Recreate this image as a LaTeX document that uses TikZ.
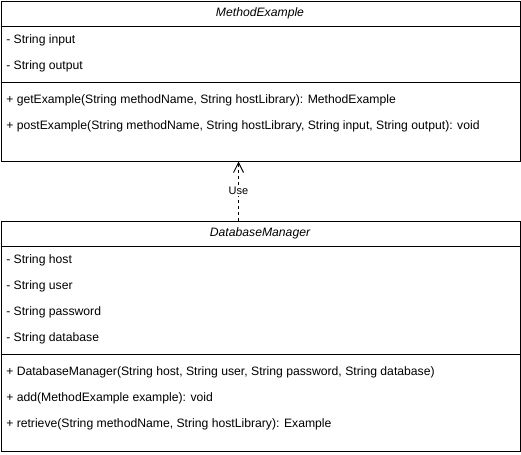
\documentclass[tikz,border=0pt]{standalone}
\usepackage{fontspec}
\setmainfont{Liberation Sans}
\usetikzlibrary{arrows.meta}
\begin{document}
\begin{tikzpicture}[x=0.75pt,y=-0.75pt,
  classbox/.style={draw=black, line width=0.75pt, fill=white, anchor=north west, inner sep=0pt, minimum width=389.25pt},
  member/.style={anchor=west, inner sep=0pt, font=\fontsize{9.14pt}{11pt}\selectfont},
  title/.style={inner sep=0pt, font=\fontsize{9.14pt}{11pt}\selectfont\itshape},
  divider/.style={draw=black, line width=0.75pt},
  uselabel/.style={fill=white, inner sep=1pt, font=\fontsize{8.25pt}{10pt}\selectfont}]
\useasboundingbox (0,0) rectangle (521,454);
% MethodExample
\node[classbox, minimum height=120pt] (me) at (0.5,0.5) {};
\draw[divider] (0.5,26.5) -- (519.5,26.5);
\draw[divider] (0.5,82.5) -- (519.5,82.5);
\node[title] (metitle) at (260,13.5) {MethodExample};
\node[member] (mea1) at (6,40) {- String input};
\node[member] (mea2) at (6,66) {- String output};
\node[member] (mem1) at (6,100) {+ getExample(String methodName, String hostLibrary): MethodExample};
\node[member] (mem2) at (6,126) {+ postExample(String methodName, String hostLibrary, String input, String output): void};
% DatabaseManager
\node[classbox, minimum height=172.5pt] (dm) at (0.5,220.5) {};
\draw[divider] (0.5,246.5) -- (519.5,246.5);
\draw[divider] (0.5,354.5) -- (519.5,354.5);
\node[title] (dmtitle) at (260,233.5) {DatabaseManager};
\node[member] (dma1) at (6,260) {- String host};
\node[member] (dma2) at (6,286) {- String user};
\node[member] (dma3) at (6,312) {- String password};
\node[member] (dma4) at (6,338) {- String database};
\node[member] (dmm1) at (6,372) {+ DatabaseManager(String host, String user, String password, String database)};
\node[member] (dmm2) at (6,398) {+ add(MethodExample example): void};
\node[member] (dmm3) at (6,424) {+ retrieve(String methodName, String hostLibrary): Example};
% dependency
\coordinate (ax) at (238.5,0);
\draw[line width=0.75pt, dash pattern=on 2.25pt off 2.25pt, -{Straight Barb[length=7.5pt, width=7.5pt, line width=0.75pt]}]
  (dm.north -| ax) -- node[uselabel] (use) {Use} (me.south -| ax);
\end{tikzpicture}
\end{document}
